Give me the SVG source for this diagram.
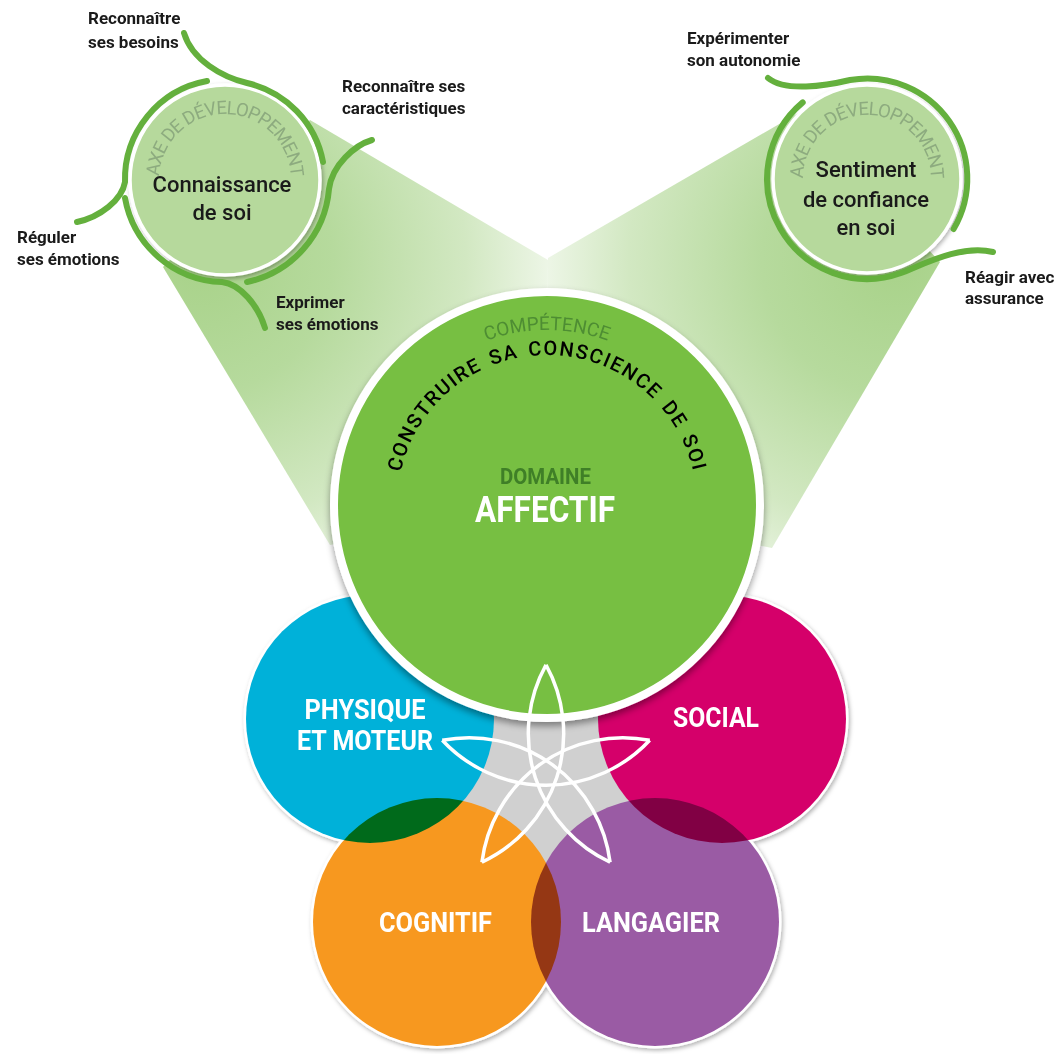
<svg xmlns="http://www.w3.org/2000/svg" width="1059" height="1054" viewBox="0 0 1059 1054">
<defs>
<style>
.lbl{font-family:Roboto,"Liberation Sans",sans-serif;font-weight:700;font-size:17px;fill:#1a1a1a}
.ttl{font-family:Roboto,"Liberation Sans",sans-serif;font-weight:500;font-size:22px;fill:#1a1a1a;text-anchor:middle}
.axe{font-family:Roboto,"Liberation Sans",sans-serif;font-size:18.5px;letter-spacing:-0.9px;fill:#8dab7f;text-anchor:middle}
.dom{font-family:Roboto,"Liberation Sans",sans-serif;font-weight:700;fill:#fff;text-anchor:middle;font-size:27px}
.arc{fill:none;stroke:#64b03d;stroke-width:6;stroke-linecap:round}
.small{fill:#b6d99c;stroke:#fff;stroke-width:3.5}
.halo{fill:#fff}
.petals{fill:none;stroke:#fff;stroke-width:3.5;stroke-linejoin:round}
</style>
<filter id="sh" x="-20%" y="-20%" width="140%" height="140%"><feDropShadow dx="1.5" dy="2" stdDeviation="2" flood-color="#000" flood-opacity="0.3"/></filter>
<filter id="shBig" x="-10%" y="-10%" width="120%" height="125%"><feDropShadow dx="0" dy="4" stdDeviation="3.5" flood-color="#000" flood-opacity="0.4"/></filter>
<radialGradient id="gL" gradientUnits="userSpaceOnUse" cx="200" cy="260" r="380">
<stop offset="0" stop-color="#a8d289"/><stop offset="0.35" stop-color="#b6da9d"/><stop offset="0.7" stop-color="#d2e8c2"/><stop offset="1" stop-color="#f7fbf4"/>
</radialGradient>
<radialGradient id="gR" gradientUnits="userSpaceOnUse" cx="895" cy="260" r="380">
<stop offset="0" stop-color="#a8d289"/><stop offset="0.35" stop-color="#b6da9d"/><stop offset="0.7" stop-color="#d2e8c2"/><stop offset="1" stop-color="#f7fbf4"/>
</radialGradient>
<path id="pAxeL" d="M178.33,226.67 A66,66 0 1 1 271.67,226.67"/>
<path id="pAxeR" d="M821.75,224.25 A64,64 0 1 1 912.25,224.25"/>
<path id="pComp" d="M372,505 A175,175 0 0 1 722,505"/>
<path id="pCons" d="M397,505 A150,150 0 0 1 697,505"/>
<path id="petal" d="M-103.7,-33.7 A142,142 0 0 0 103.7,-33.7"/>
</defs>

<g id="connectors">
<polygon points="310,120 548,260 547,505 330,545 163,267" fill="url(#gL)"/>
<polygon points="800,112 548,258 547,505 772,548 940,262" fill="url(#gR)"/>
</g>

<g id="axe-connaissance">
<circle class="small" cx="225" cy="180" r="95" filter="url(#sh)"/>
<path class="arc" d="M184,33 C192,60 222,77 247,83 A100,100 0 0 1 323,162"/>
<path class="arc" d="M207,81 A100,100 0 0 0 125,182 C122,200 100,217 77,222"/>
<path class="arc" d="M372,140 C355,145 332,165 329,189 A104,104 0 0 1 247,282"/>
<path class="arc" d="M125,198 A102,102 0 0 0 222,282 C240,284 258,305 265,328"/>
<text class="axe"><textPath href="#pAxeL" startOffset="50%">AXE DE DÉVELOPPEMENT</textPath></text>
<text class="ttl" x="222" y="192">Connaissance<tspan x="222" y="220">de soi</tspan></text>
</g>

<g id="axe-confiance">
<circle class="small" cx="867" cy="179" r="94" filter="url(#sh)"/>
<path class="arc" d="M768,78 C785,92 825,86 850,80 A100,100 0 0 1 953.6,229"/>
<path class="arc" d="M802.7,102.4 A100,100 0 0 0 901,273 C920,266 960,244 993,252"/>
<text class="axe"><textPath href="#pAxeR" startOffset="50%">AXE DE DÉVELOPPEMENT</textPath></text>
<text class="ttl" x="866" y="177">Sentiment<tspan x="866" y="207">de confiance</tspan><tspan x="866" y="235">en soi</tspan></text>
</g>

<g id="labels">
<text class="lbl" x="88" y="24">Reconnaître<tspan x="88" y="48">ses besoins</tspan></text>
<text class="lbl" x="342" y="92">Reconnaître ses<tspan x="342" y="114">caractéristiques</tspan></text>
<text class="lbl" x="17" y="243">Réguler<tspan x="17" y="265">ses émotions</tspan></text>
<text class="lbl" x="276" y="308">Exprimer<tspan x="276" y="330">ses émotions</tspan></text>
<text class="lbl" x="687" y="44">Expérimenter<tspan x="687" y="66">son autonomie</tspan></text>
<text class="lbl" x="965" y="283">Réagir avec<tspan x="965" y="304">assurance</tspan></text>
</g>

<g id="domain-halos" filter="url(#sh)">
<circle class="halo" cx="370" cy="719" r="126.5"/>
<circle class="halo" cx="722" cy="719" r="126.5"/>
<circle class="halo" cx="437" cy="922" r="126.5"/>
<circle class="halo" cx="655" cy="922" r="126.5"/>
</g>
<circle id="centre-gap" cx="546" cy="790" r="115" fill="#d0d0d0"/>

<g id="domains" style="isolation:isolate">
<g id="physique"><circle cx="370" cy="719" r="124" fill="#00b1d9" style="mix-blend-mode:multiply"/></g>
<g id="social"><circle cx="722" cy="719" r="124" fill="#d5006a" style="mix-blend-mode:multiply"/></g>
<g id="cognitif"><circle cx="437" cy="922" r="124" fill="#f7981f" style="mix-blend-mode:multiply"/></g>
<g id="langagier"><circle cx="655" cy="922" r="124" fill="#9a5ba4" style="mix-blend-mode:multiply"/></g>
</g>
<g id="domain-labels">
<text class="dom" x="365" y="719" textLength="121" lengthAdjust="spacingAndGlyphs">PHYSIQUE</text>
<text class="dom" x="365" y="750" textLength="136" lengthAdjust="spacingAndGlyphs">ET MOTEUR</text>
<text class="dom" x="716" y="727" textLength="86" lengthAdjust="spacingAndGlyphs">SOCIAL</text>
<text class="dom" x="435.5" y="932" textLength="113" lengthAdjust="spacingAndGlyphs">COGNITIF</text>
<text class="dom" x="651" y="932" textLength="138" lengthAdjust="spacingAndGlyphs">LANGAGIER</text>
</g>

<g id="affectif">
<circle cx="547" cy="505" r="213" fill="#77bf43" stroke="#fff" stroke-width="8" filter="url(#shBig)"/>
<text font-family="Roboto,'Liberation Sans',sans-serif" font-size="19" fill="#4e8d33" text-anchor="middle"><textPath href="#pComp" startOffset="50%">COMPÉTENCE</textPath></text>
<text font-family="Roboto,'Liberation Sans',sans-serif" font-size="20" font-weight="500" fill="#000" letter-spacing="1.6" word-spacing="3" text-anchor="middle"><textPath href="#pCons" startOffset="50%">CONSTRUIRE SA CONSCIENCE DE SOI</textPath></text>
<text font-family="Roboto,'Liberation Sans',sans-serif" font-size="22" font-weight="700" fill="#3f7f27" text-anchor="middle" x="545.5" y="484" textLength="91" lengthAdjust="spacingAndGlyphs">DOMAINE</text>
<text class="dom" x="545" y="522" textLength="140" lengthAdjust="spacingAndGlyphs" style="font-size:36px">AFFECTIF</text>
</g>

<g id="star" class="petals" transform="translate(546,774)">
<use href="#petal"/>
<use href="#petal" transform="rotate(72)"/>
<use href="#petal" transform="rotate(144)"/>
<use href="#petal" transform="rotate(216)"/>
<use href="#petal" transform="rotate(288)"/>
</g>
</svg>
